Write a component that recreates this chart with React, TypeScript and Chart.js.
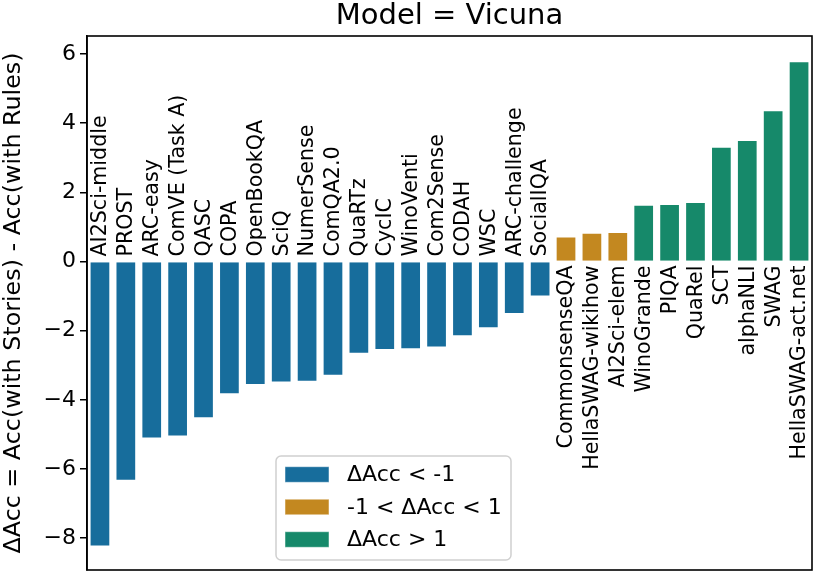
import React, { useEffect, useRef } from "react";
import { Chart, registerables } from "chart.js";

Chart.register(...registerables);

const categories = [
  "AI2Sci-middle", "PROST", "ARC-easy", "ComVE (Task A)", "QASC", "COPA",
  "OpenBookQA", "SciQ", "NumerSense", "ComQA2.0", "QuaRTz", "CycIC",
  "WinoVenti", "Com2Sense", "CODAH", "WSC", "ARC-challenge", "SocialIQA",
  "CommonsenseQA", "HellaSWAG-wikihow", "AI2Sci-elem", "WinoGrande", "PIQA",
  "QuaRel", "SCT", "alphaNLI", "SWAG", "HellaSWAG-act.net",
];

const deltaAcc = [
  -8.24, -6.34, -5.12, -5.06, -4.53, -3.84, -3.57, -3.5, -3.48, -3.3, -2.67,
  -2.56, -2.54, -2.49, -2.16, -1.93, -1.52, -1.01, 0.72, 0.83, 0.85, 1.64,
  1.66, 1.72, 3.32, 3.51, 4.37, 5.79,
];

// group index of each bar: 0 = ΔAcc < -1, 1 = -1 < ΔAcc < 1, 2 = ΔAcc > 1
const groupIndex = [
  0, 0, 0, 0, 0, 0, 0, 0, 0, 0, 0, 0, 0, 0, 0, 0, 0, 0, 1, 1, 1, 2, 2, 2, 2, 2, 2, 2,
];

const groupLabels = ["ΔAcc < -1", "-1 < ΔAcc < 1", "ΔAcc > 1"];
const groupColors = ["#176d9c", "#c38820", "#16896a"];

const yTicks = [-8, -6, -4, -2, 0, 2, 4, 6];

const titleText = "Model = Vicuna";
const yTitleText = "ΔAcc = Acc(with Stories) - Acc(with Rules)";

const FONT = "'DejaVu Sans', sans-serif";

const overlayPlugin = {
  id: "overlay",
  afterDatasetsDraw(chart: any) {
    const { ctx, chartArea } = chart;
    const xs = chart.scales.x;
    const ys = chart.scales.y;
    const y0 = ys.getPixelForValue(0);
    ctx.save();
    // category labels inside plot
    ctx.fillStyle = "#000";
    ctx.font = `20.6px ${FONT}`;
    ctx.textBaseline = "middle";
    categories.forEach((c, i) => {
      const x = xs.getPixelForValue(i);
      const v = deltaAcc[i];
      ctx.save();
      ctx.translate(x + 1, v < 0 ? y0 - 5 : y0 + 4);
      ctx.rotate(-Math.PI / 2);
      ctx.textAlign = v < 0 ? "left" : "right";
      ctx.fillText(c, 0, 0);
      ctx.restore();
    });

    // frame
    ctx.strokeStyle = "#000";
    ctx.lineWidth = 1.6;
    ctx.strokeRect(chartArea.left, chartArea.top, chartArea.right - chartArea.left, chartArea.bottom - chartArea.top);

    // title
    ctx.font = `29px ${FONT}`;
    ctx.textAlign = "center";
    ctx.textBaseline = "alphabetic";
    ctx.fillText(titleText, (chartArea.left + chartArea.right) / 2, 24);

    // y title
    ctx.save();
    ctx.font = `23.8px ${FONT}`;
    ctx.translate(14, (chartArea.top + chartArea.bottom) / 2);
    ctx.rotate(-Math.PI / 2);
    ctx.textAlign = "center";
    ctx.textBaseline = "middle";
    ctx.fillText(yTitleText, 0, 0);
    ctx.restore();

    // legend
    const lx = 276, ly = 456, lw = 235, lh = 104;
    ctx.fillStyle = "rgba(255,255,255,0.8)";
    ctx.strokeStyle = "#d0d0d0";
    ctx.lineWidth = 1.5;
    ctx.beginPath();
    ctx.roundRect(lx, ly, lw, lh, 5);
    ctx.fill();
    ctx.stroke();
    ctx.font = `22px ${FONT}`;
    ctx.textAlign = "left";
    ctx.textBaseline = "middle";
    groupLabels.forEach((g, k) => {
      const cy = 474.5 + k * 32.5;
      ctx.fillStyle = groupColors[k];
      ctx.fillRect(285, cy - 7.8, 44, 15.6);
      ctx.strokeStyle = "rgba(255,255,255,0.5)";
      ctx.lineWidth = 1;
      ctx.strokeRect(285, cy - 7.8, 44, 15.6);
      ctx.fillStyle = "#000";
      ctx.fillText(g, 347, cy + 1);
    });
    ctx.restore();
  },
};

export default function App() {
  const ref = useRef<HTMLCanvasElement | null>(null);
  useEffect(() => {
    if (!ref.current) return;
    const datasets = groupLabels.map((g, k) => ({
      label: g,
      data: deltaAcc.map((v, i) => (groupIndex[i] === k ? v : null)),
      backgroundColor: groupColors[k],
      borderColor: "rgba(255,255,255,0.45)",
      borderWidth: 1,
      grouped: false,
      categoryPercentage: 1,
      barPercentage: 0.8,
    }));
    const chart = new Chart(ref.current, {
      type: "bar",
      data: { labels: categories, datasets },
      options: {
        animation: false,
        responsive: false,
        devicePixelRatio: 1,
        layout: { padding: { left: 0, top: 36, right: 1, bottom: 2 } },
        plugins: { legend: { display: false }, tooltip: { enabled: false }, title: { display: false } },
        scales: {
          x: { display: false, offset: true },
          y: {
            min: -8.92,
            max: 6.52,
            afterFit(scale: any) {
              scale.width = 87;
              scale.paddingTop = 0;
              scale.paddingBottom = 0;
            },
            afterBuildTicks(scale: any) {
              scale.ticks = yTicks.map((v) => ({ value: v }));
            },
            ticks: {
              color: "#000",
              font: { family: FONT, size: 22 },
              padding: 4,
              callback: (v: any) => (Number(v) < 0 ? "\u2212" + Math.abs(Number(v)) : String(v)),
            },
            grid: { drawOnChartArea: false, drawTicks: true, tickLength: 7, color: "#000", lineWidth: 1.5 },
            border: { display: true, color: "#000", width: 1.6 },
          },
        },
      },
      plugins: [overlayPlugin],
    });
    return () => chart.destroy();
  }, []);
  return (
    <div style={{ position: "fixed", left: 0, top: 0, width: 813, height: 572, background: "#fff" }}>
      <canvas ref={ref} width={813} height={572} style={{ width: 813, height: 572 }} />
    </div>
  );
}
